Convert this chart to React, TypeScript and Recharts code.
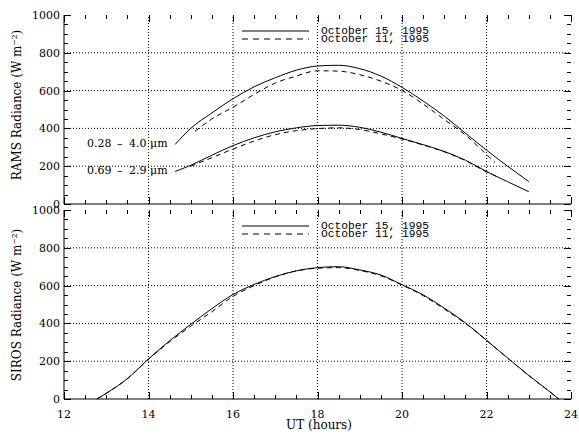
import React from 'react';
import { LineChart, Line, XAxis, YAxis, ReferenceLine } from 'recharts';

// RAMS 0.28 - 4.0 um
const broadHours15 = [14.63, 15, 15.5, 16, 16.5, 17, 17.5, 18, 18.5, 19, 19.5, 20, 20.5, 21, 21.5, 22, 22.5, 23];
const broadOct15 = [315, 400, 482, 557, 620, 668, 708, 730, 734, 716, 677, 617, 545, 465, 375, 285, 200, 119];
const broadHours11 = [15.1, 15.5, 16, 16.5, 17, 17.5, 18, 18.5, 19, 19.5, 20, 20.5, 21, 21.5, 22, 22.2];
const broadOct11 = [385, 450, 512, 580, 640, 677, 705, 703, 684, 650, 601, 529, 447, 365, 262, 220];

// RAMS 0.69 - 2.9 um
const narrowHours15 = [14.63, 15, 15.5, 16, 16.5, 17, 17.5, 18, 18.5, 19, 19.5, 20, 20.5, 21, 21.5, 22, 22.5, 23];
const narrowOct15 = [172, 205, 258, 309, 350, 382, 403, 415, 417, 406, 380, 347, 314, 278, 232, 172, 118, 65];
const narrowHours11 = [15, 15.5, 16, 16.5, 17, 17.5, 18, 18.5, 19, 19.5, 20, 20.5, 21, 21.5, 22, 22.3];
const narrowOct11 = [200, 245, 291, 333, 367, 388, 399, 403, 394, 371, 344, 312, 276, 230, 170, 140];

// SIROS
const sirosHours = [12.78, 13, 13.5, 14, 14.5, 15, 15.5, 16, 16.5, 17, 17.5, 18, 18.5, 19, 19.5, 20, 20.5, 21, 21.5, 22, 22.5, 23, 23.5, 23.71];
const sirosOct15 = [0, 30, 108, 212, 308, 395, 478, 553, 606, 648, 678, 695, 700, 683, 656, 605, 551, 481, 403, 311, 217, 125, 38, 0];
const sirosOct11 = [0, 30, 107, 210, 303, 385, 462, 543, 600, 646, 678, 692, 695, 680, 652, 603, 547, 476, 400, 310, 216, 124, 38, 0];

const xTicks = [12, 12.5, 13, 13.5, 14, 14.5, 15, 15.5, 16, 16.5, 17, 17.5, 18, 18.5, 19, 19.5, 20, 20.5, 21, 21.5, 22, 22.5, 23, 23.5, 24];
const yTicks = [0, 50, 100, 150, 200, 250, 300, 350, 400, 450, 500, 550, 600, 650, 700, 750, 800, 850, 900, 950, 1000];
const xGrid = [14, 16, 18, 20, 22];
const yGrid = [200, 400, 600, 800];

const legendLabels = ['October 15, 1995', 'October 11, 1995'];

const toPoints = (hours: number[], vals: number[]) => hours.map((h, i) => ({ h, v: vals[i] }));

const serif = '"DejaVu Serif", serif';
const mono = '"Liberation Mono", monospace';

// plot frame (matches the chart margins below)
const plotLeft = 64;
const plotRight = 571;
const frames = [
  { top: 15, bottom: 204 },
  { top: 210, bottom: 399 },
];

const xTick = (labels: boolean) => (props: any) => {
  const { x, y, payload } = props;
  if (!labels || payload.value % 2 !== 0) return <g />;
  return (
    <text x={x} y={y + 19} textAnchor="middle" fontFamily={serif} fontSize={11} fill="#000">
      {payload.value}
    </text>
  );
};

const yTick = (props: any) => {
  const { x, y, payload } = props;
  if (payload.value % 200 !== 0) return <g />;
  return (
    <text x={x - 4} y={y + 4} textAnchor="end" fontFamily={serif} fontSize={11} fill="#000">
      {payload.value}
    </text>
  );
};

const Panel = ({ height, margin, bottomHeight, labels, children }: any) => (
  <LineChart width={579} height={height} margin={margin}>
    <XAxis
      type="number"
      dataKey="h"
      domain={[12, 24]}
      ticks={xTicks}
      interval={0}
      height={bottomHeight}
      tickSize={0}
      tickMargin={0}
      tickLine={false}
      axisLine={{ stroke: '#000' }}
      tick={xTick(labels)}
    />
    <XAxis xAxisId="top" orientation="top" type="number" domain={[12, 24]} height={0} tickLine={false} tick={false} axisLine={{ stroke: '#000' }} />
    <YAxis
      type="number"
      domain={[0, 1000]}
      ticks={yTicks}
      interval={0}
      width={60}
      tickSize={0}
      tickMargin={0}
      tickLine={false}
      axisLine={{ stroke: '#000' }}
      tick={yTick}
    />
    <YAxis yAxisId="right" orientation="right" type="number" domain={[0, 1000]} width={0} tickLine={false} tick={false} axisLine={{ stroke: '#000' }} />
    {xGrid.map((g) => (
      <ReferenceLine key={'x' + g} x={g} stroke="#000" strokeDasharray="1 2" />
    ))}
    {yGrid.map((g) => (
      <ReferenceLine key={'y' + g} y={g} stroke="#000" strokeDasharray="1 2" />
    ))}
    {children}
  </LineChart>
);

const line = (key: string, hours: number[], vals: number[], dashed: boolean) => (
  <Line
    key={key}
    data={toPoints(hours, vals)}
    dataKey="v"
    type="monotone"
    stroke="#000"
    strokeWidth={1}
    strokeDasharray={dashed ? '5 4' : undefined}
    dot={false}
    activeDot={false}
    isAnimationActive={false}
  />
);

// inward tick marks on all four sides of a panel
const FrameTicks = ({ top, bottom }: { top: number; bottom: number }) => {
  const xAt = (h: number) => plotLeft + ((h - 12) / 12) * (plotRight - plotLeft);
  const yAt = (v: number) => bottom - (v / 1000) * (bottom - top);
  let d = '';
  xTicks.forEach((h) => {
    const len = h % 2 === 0 ? 7 : 4;
    const x = Math.round(xAt(h)) + 0.5;
    d += `M${x},${bottom}V${bottom - len}M${x},${top}V${top + len}`;
  });
  yTicks.forEach((v) => {
    const len = v % 200 === 0 ? 7 : 4;
    const y = Math.round(yAt(v)) + 0.5;
    d += `M${plotLeft},${y}H${plotLeft + len}M${plotRight},${y}H${plotRight - len}`;
  });
  return <path d={d} stroke="#000" strokeWidth={1} fill="none" />;
};

const Legend = ({ top }: { top: number }) => (
  <g>
    <line x1={242} x2={309} y1={top} y2={top} stroke="#000" />
    <line x1={242} x2={309} y1={top + 8} y2={top + 8} stroke="#000" strokeDasharray="6 5" />
    {legendLabels.map((t, i) => (
      <text key={t} x={321} y={top + 3 + i * 8} fontFamily={mono} fontSize={11} textLength={108} lengthAdjust="spacingAndGlyphs" fill="#000">
        {t}
      </text>
    ))}
  </g>
);

const Band = ({ y, parts }: { y: number; parts: string[] }) => {
  const xs = [87, 117, 129, 150];
  return (
    <text y={y} fontFamily={serif} fontSize={11} fill="#000">
      {parts.map((p, i) => (
        <tspan key={i} x={xs[i]}>
          {p}
        </tspan>
      ))}
    </text>
  );
};

export default function App() {
  return (
    <div style={{ position: 'absolute', left: 0, top: 0, width: 579, height: 434, background: '#fff' }}>
      <div style={{ position: 'absolute', left: 0, top: 0 }}>
        <Panel height={210} margin={{ top: 15, right: 8, bottom: 0, left: 4 }} bottomHeight={6} labels={false}>
          {line('b15', broadHours15, broadOct15, false)}
          {line('b11', broadHours11, broadOct11, true)}
          {line('n15', narrowHours15, narrowOct15, false)}
          {line('n11', narrowHours11, narrowOct11, true)}
        </Panel>
      </div>
      <div style={{ position: 'absolute', left: 0, top: 205 }}>
        <Panel height={229} margin={{ top: 5, right: 8, bottom: 0, left: 4 }} bottomHeight={35} labels={true}>
          {line('s15', sirosHours, sirosOct15, false)}
          {line('s11', sirosHours, sirosOct11, true)}
        </Panel>
      </div>
      <svg width={579} height={434} style={{ position: 'absolute', left: 0, top: 0, pointerEvents: 'none' }}>
        {frames.map((f, i) => (
          <FrameTicks key={i} top={f.top} bottom={f.bottom} />
        ))}
        <text transform="translate(21,105) rotate(-90)" textAnchor="middle" fontFamily={serif} fontSize={12} fill="#000">
          RAMS Radiance (W m⁻²)
        </text>
        <text transform="translate(21,305) rotate(-90)" textAnchor="middle" fontFamily={serif} fontSize={12} fill="#000">
          SIROS Radiance (W m⁻²)
        </text>
        <text x={319} y={429} textAnchor="middle" fontFamily={serif} fontSize={12} fill="#000">
          UT (hours)
        </text>
        <Band y={147} parts={['0.28', '–', '4.0', 'μm']} />
        <Band y={174} parts={['0.69', '–', '2.9', 'μm']} />
        <Legend top={31} />
        <Legend top={226} />
      </svg>
    </div>
  );
}
